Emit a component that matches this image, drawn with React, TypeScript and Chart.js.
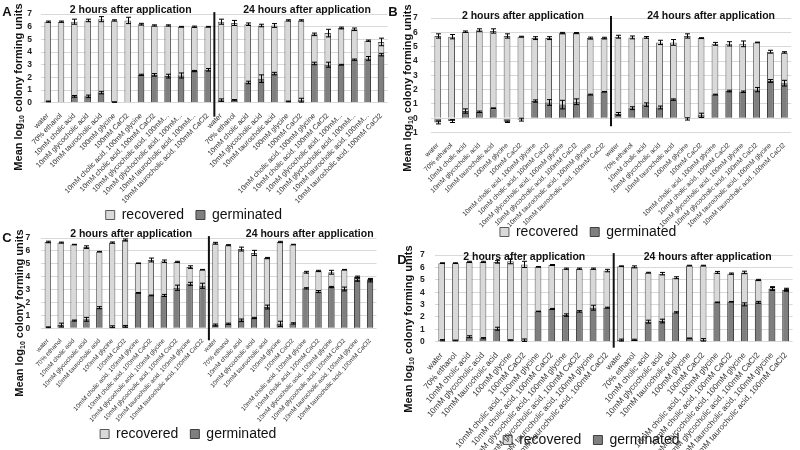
import React, { useEffect, useRef } from "react";
import { Chart, registerables } from "chart.js";
Chart.register(...registerables);

const FONT = "'Liberation Sans', Arial, Helvetica, sans-serif";

// ---------- categories ----------
const singles = [
  "water",
  "70% ethanol",
  "10mM cholic acid",
  "10mM glycocholic acid",
  "10mM taurocholic acid",
  "100mM glycine",
  "100mM CaCl2",
];
const combosFull = [
  "10mM cholic acid, 100mM glycine",
  "10mM cholic acid, 100mM CaCl2",
  "10mM glycocholic acid, 100mM glycine",
  "10mM glycocholic acid, 100mM CaCl2",
  "10mM taurocholic acid, 100mM glycine",
  "10mM taurocholic acid, 100mM CaCl2",
];
const combosA = [
  "10mM cholic acid, 100mM glycine",
  "10mM cholic acid, 100mM CaCl2",
  "10mM glycocholic acid, 100mM...",
  "10mM glychocholic acid, 100mM...",
  "10mM taurocholic acid, 100mM...",
  "10mM taurocholic acid, 100mM CaCl2",
];
const labelsA = [...singles, ...combosA, ...singles, ...combosA];
const labelsFull = [...singles, ...combosFull, ...singles, ...combosFull];

const timeTitles = ["2 hours after application", "24 hours after application"];
const legendNames = ["recovered", "germinated"];
const yTicksA = [0, 7];
const yTicksB = [-1, 7];

// ---------- panel A ----------
const recA = [6.4, 6.4, 6.4, 6.5, 6.6, 6.5, 6.5, 6.2, 6.1, 6.1, 6.0, 6.0, 6.0,
  6.4, 6.3, 6.2, 6.1, 6.1, 6.5, 6.5, 5.4, 5.5, 5.9, 5.8, 4.9, 4.8];
const recErrA = [0.05, 0.05, 0.2, 0.1, 0.2, 0.05, 0.25, 0.07, 0.05, 0.05, 0.03, 0.05, 0.03,
  0.2, 0.2, 0.1, 0.1, 0.15, 0.05, 0.05, 0.1, 0.3, 0.07, 0.1, 0.05, 0.3];
const germA = [0.1, 0.02, 0.5, 0.5, 0.8, 0.05, 0.03, 2.2, 2.2, 2.1, 2.15, 2.5, 2.6,
  0.2, 0.2, 1.6, 1.9, 2.3, 0.1, 0.2, 3.1, 3.0, 3.0, 3.4, 3.5, 3.8];
const germErrA = [0.03, 0, 0.07, 0.1, 0.1, 0.02, 0, 0.05, 0.1, 0.15, 0.2, 0.05, 0.1,
  0.1, 0.05, 0.1, 0.3, 0.1, 0.03, 0.15, 0.1, 0.2, 0.03, 0.05, 0.15, 0.1];

// ---------- panel B ----------
const recB = [5.75, 5.7, 6.05, 6.15, 6.1, 5.75, 5.7, 5.6, 5.6, 5.95, 5.95, 5.6, 5.6,
  5.7, 5.65, 5.65, 5.3, 5.3, 5.75, 5.6, 5.2, 5.2, 5.2, 5.3, 4.65, 4.6];
const recErrB = [0.15, 0.15, 0.05, 0.1, 0.15, 0.15, 0.03, 0.1, 0.1, 0.05, 0.04, 0.07, 0.06,
  0.1, 0.1, 0.06, 0.15, 0.2, 0.15, 0.03, 0.1, 0.15, 0.2, 0.02, 0.1, 0.05];
const germB = [-0.3, -0.2, 0.5, 0.45, 0.7, -0.25, -0.1, 1.2, 1.1, 0.95, 1.15, 1.65, 1.85,
  0.3, 0.7, 0.95, 0.75, 1.3, -0.05, 0.2, 1.65, 1.9, 1.85, 2.0, 2.6, 2.45];
const germErrB = [0.1, 0.1, 0.15, 0.05, 0.02, 0.05, 0.1, 0.08, 0.2, 0.3, 0.2, 0.03, 0.02,
  0.1, 0.1, 0.12, 0.1, 0.05, 0.08, 0.15, 0.03, 0.06, 0.05, 0.15, 0.1, 0.2];

// ---------- panel C ----------
const recC = [6.7, 6.65, 6.5, 6.3, 5.95, 6.65, 6.85, 5.05, 5.3, 5.2, 5.15, 4.75, 4.55,
  6.6, 6.45, 6.15, 5.85, 5.45, 6.7, 6.5, 4.35, 4.45, 4.35, 4.55, 4.0, 3.8];
const recErrC = [0.06, 0.04, 0.02, 0.1, 0.02, 0.05, 0.08, 0.02, 0.15, 0.1, 0.05, 0.1, 0.02,
  0.07, 0.04, 0.15, 0.2, 0.05, 0.05, 0.02, 0.07, 0.05, 0.15, 0.02, 0.05, 0.07];
const germC = [0.08, 0.25, 0.6, 0.7, 1.6, 0.12, 0.15, 2.75, 2.55, 2.55, 3.15, 3.45, 3.3,
  0.25, 0.35, 0.62, 0.8, 1.65, 0.35, 0.38, 3.1, 2.85, 3.2, 3.05, 3.75, 3.7];
const germErrC = [0.03, 0.15, 0.04, 0.15, 0.08, 0.07, 0.07, 0.03, 0.03, 0.08, 0.2, 0.12, 0.2,
  0.08, 0.05, 0.1, 0.05, 0.15, 0.2, 0.05, 0.05, 0.08, 0.05, 0.15, 0.1, 0.1];

// ---------- panel D ----------
const recD = [6.35, 6.35, 6.45, 6.45, 6.45, 6.5, 6.25, 6.05, 6.2, 5.9, 5.9, 5.9, 5.75,
  6.1, 6.05, 5.58, 5.5, 5.17, 6.15, 6.15, 5.6, 5.5, 5.6, 4.99, 4.28, 4.18];
const recErrD = [0.03, 0.03, 0.05, 0.05, 0.1, 0.2, 0.25, 0.02, 0.04, 0.05, 0.05, 0.05, 0.1,
  0.03, 0.08, 0.03, 0.1, 0.08, 0.03, 0.03, 0.08, 0.05, 0.1, 0.05, 0.1, 0.05];
const germD = [0.12, 0.1, 0.4, 0.28, 1.05, 0.12, 0.12, 2.45, 2.65, 2.15, 2.45, 2.75, 2.75,
  0.13, 0.15, 1.62, 1.67, 2.37, 0.27, 0.15, 3.18, 3.23, 3.02, 3.18, 4.3, 4.2];
const germErrD = [0.05, 0.03, 0.08, 0.05, 0.12, 0.04, 0.1, 0.02, 0.04, 0.1, 0.06, 0.2, 0.04,
  0.08, 0.05, 0.12, 0.15, 0.05, 0.03, 0.1, 0.03, 0.02, 0.12, 0.08, 0.15, 0.12];

// ---------- layout of the four panels ----------
const panels = [
  {
    letter: "A", labels: labelsA, rec: recA, recErr: recErrA, germ: germA, germErr: germErrA, yr: yTicksA,
    left: 0, top: 0, width: 400, height: 232,
    padTop: 10.7, padRight: 12.3, yWidth: 41, xHeight: 93.3, tickPad: 9, rot: 46, xFont: 7.2,
    yTitle: [19, 87], letterPos: [7, 12], titleDy: -4, titleDx: [3, 6], divExtra: 14,
  },
  {
    letter: "B", labels: labelsFull, rec: recB, recErr: recErrB, germ: germB, germErr: germErrB, yr: yTicksB,
    left: 385, top: 0, width: 415, height: 249,
    padTop: 10.7, padRight: 8.8, yWidth: 45.8, xHeight: 80.5, tickPad: 13, rot: 45, xFont: 6.7,
    yTitle: [23, 88], letterPos: [8, 12], titleDy: -1.5, titleDx: [2, 10], divExtra: 8,
  },
  {
    letter: "C", labels: labelsFull, rec: recC, recErr: recErrC, germ: germC, germErr: germErrC, yr: yTicksA,
    left: 0, top: 222, width: 400, height: 229,
    padTop: 13, padRight: 23.5, yWidth: 41.3, xHeight: 86.7, tickPad: 11, rot: 48, xFont: 6.3,
    yTitle: [20, 91], letterPos: [7, 16], titleDy: -3.5, titleDx: [6, 17], divExtra: 12,
  },
  {
    letter: "D", labels: labelsFull, rec: recD, recErr: recErrD, germ: germD, germErr: germErrD, yr: yTicksA,
    left: 390, top: 240, width: 410, height: 217,
    padTop: 15, padRight: 7.4, yWidth: 44.8, xHeight: 79.3, tickPad: 10, rot: 49, xFont: 8.2,
    yTitle: [19, 89], letterPos: [12, 20], titleDy: 2.5, titleDx: [0, 4.5], divExtra: 6,
  },
];

function drawYTitle(ctx: CanvasRenderingContext2D, cx: number, cy: number) {
  ctx.save();
  ctx.translate(cx, cy);
  ctx.rotate(-Math.PI / 2);
  ctx.fillStyle = "#111";
  ctx.textBaseline = "middle";
  ctx.textAlign = "left";
  const main = `bold 11px ${FONT}`;
  const sub = `bold 7px ${FONT}`;
  const parts: [string, string, number][] = [
    ["Mean log", main, 0],
    ["10", sub, 3],
    [" colony forming units", main, 0],
  ];
  let total = 0;
  const widths = parts.map(([t, f]) => {
    ctx.font = f;
    const w = ctx.measureText(t).width;
    total += w;
    return w;
  });
  let x = -total / 2;
  parts.forEach(([t, f, dy], i) => {
    ctx.font = f;
    ctx.fillText(t, x, dy);
    x += widths[i];
  });
  ctx.restore();
}

const overlayPlugin = {
  id: "overlay",
  afterDatasetsDraw(chart: any, _args: any, opts: any) {
    const ctx = chart.ctx;
    const ys = chart.scales.y;
    ctx.save();
    ctx.strokeStyle = "#000";
    ctx.lineWidth = 1;
    chart.data.datasets.forEach((ds: any, di: number) => {
      const meta = chart.getDatasetMeta(di);
      meta.data.forEach((el: any, i: number) => {
        const v = ds.data[i];
        const e = ds.errors[i];
        if (!e) return;
        const px = Math.round(el.x) + 0.5;
        const y1 = ys.getPixelForValue(v + e);
        const y2 = ys.getPixelForValue(v - e);
        ctx.beginPath();
        ctx.moveTo(px, y1);
        ctx.lineTo(px, y2);
        ctx.moveTo(px - 2.5, y1);
        ctx.lineTo(px + 2.5, y1);
        ctx.moveTo(px - 2.5, y2);
        ctx.lineTo(px + 2.5, y2);
        ctx.stroke();
      });
    });
    ctx.restore();
  },
  afterDraw(chart: any, _args: any, opts: any) {
    const ctx = chart.ctx;
    const xs = chart.scales.x;
    const ys = chart.scales.y;
    const top7 = ys.getPixelForValue(7);
    const zero = ys.getPixelForValue(0);
    ctx.save();
    // divider between the two time points
    const dx = (xs.getPixelForValue(12) + xs.getPixelForValue(13)) / 2;
    ctx.strokeStyle = "#111";
    ctx.lineWidth = 2;
    ctx.beginPath();
    ctx.moveTo(dx, top7 - 2);
    ctx.lineTo(dx, zero + opts.divExtra);
    ctx.stroke();
    // time titles
    ctx.fillStyle = "#111";
    ctx.font = `bold 10.5px ${FONT}`;
    ctx.textAlign = "center";
    ctx.textBaseline = "middle";
    const c1 = (xs.getPixelForValue(0) + xs.getPixelForValue(12)) / 2 + opts.titleDx[0];
    const c2 = (xs.getPixelForValue(13) + xs.getPixelForValue(25)) / 2 + opts.titleDx[1];
    ctx.fillText(timeTitles[0], c1, top7 + opts.titleDy);
    ctx.fillText(timeTitles[1], c2, top7 + opts.titleDy);
    // panel letter
    ctx.font = `bold 13px ${FONT}`;
    ctx.fillText(opts.letter, opts.letterPos[0], opts.letterPos[1]);
    ctx.restore();
    drawYTitle(ctx, opts.yTitle[0], opts.yTitle[1]);
  },
};

function Panel({ cfg }: { cfg: any }) {
  const ref = useRef<HTMLCanvasElement | null>(null);
  useEffect(() => {
    if (!ref.current) return;
    const chart = new Chart(ref.current, {
      type: "bar",
      data: {
        labels: cfg.labels,
        datasets: [
          {
            label: legendNames[0],
            data: cfg.rec,
            errors: cfg.recErr,
            backgroundColor: "#d9d9d9",
            borderColor: "#595959",
            borderWidth: 1,
            order: 2,
            grouped: false,
            barPercentage: 0.49,
            categoryPercentage: 1,
          } as any,
          {
            label: legendNames[1],
            data: cfg.germ,
            errors: cfg.germErr,
            backgroundColor: "#7f7f7f",
            borderColor: "#404040",
            borderWidth: 1,
            order: 1,
            grouped: false,
            barPercentage: 0.49,
            categoryPercentage: 1,
          } as any,
        ],
      },
      options: {
        responsive: false,
        animation: false,
        devicePixelRatio: 1,
        layout: { padding: { top: cfg.padTop, right: cfg.padRight, left: 0, bottom: 0 } },
        scales: {
          x: {
            grid: { display: false },
            border: { display: false },
            afterFit: (s: any) => {
              s.height = cfg.xHeight;
              // let the long rotated labels run past the axis box (as in the source figure)
              s._computeLabelArea = () => undefined;
            },
            ticks: {
              autoSkip: false,
              minRotation: cfg.rot,
              maxRotation: cfg.rot,
              padding: 1,
              color: "#333",
              font: { family: FONT, size: cfg.xFont },
            },
          },
          y: {
            min: cfg.yr[0],
            max: cfg.yr[1],
            afterFit: (s: any) => { s.width = cfg.yWidth; },
            grid: { color: "#d9d9d9", drawTicks: false },
            border: { display: false },
            ticks: {
              count: cfg.yr[1] - cfg.yr[0] + 1,
              autoSkip: false,
              padding: cfg.tickPad,
              color: "#222",
              font: { family: FONT, size: 8.5, weight: "bold" },
            },
          },
        },
        plugins: {
          tooltip: { enabled: false },
          legend: {
            position: "bottom",
            labels: {
              boxWidth: 9,
              boxHeight: 9,
              padding: 12,
              color: "#111",
              font: { family: FONT, size: 14 },
              sort: (a: any, b: any) => a.datasetIndex - b.datasetIndex,
            },
          },
          overlay: {
            letter: cfg.letter,
            letterPos: cfg.letterPos,
            yTitle: cfg.yTitle,
            titleDy: cfg.titleDy,
            titleDx: cfg.titleDx,
            divExtra: cfg.divExtra,
          },
        } as any,
      },
      plugins: [overlayPlugin as any],
    });
    return () => chart.destroy();
  }, [cfg]);
  return (
    <div style={{ position: "absolute", left: cfg.left, top: cfg.top, width: cfg.width, height: cfg.height }}>
      <canvas ref={ref} width={cfg.width} height={cfg.height} style={{ display: "block" }} />
    </div>
  );
}

export default function App() {
  return (
    <div
      style={{
        position: "fixed",
        left: 0,
        top: 0,
        width: 800,
        height: 450,
        overflow: "hidden",
        background: "#fff",
      }}
    >
      {panels.map((p) => (
        <Panel key={p.letter} cfg={p} />
      ))}
    </div>
  );
}
